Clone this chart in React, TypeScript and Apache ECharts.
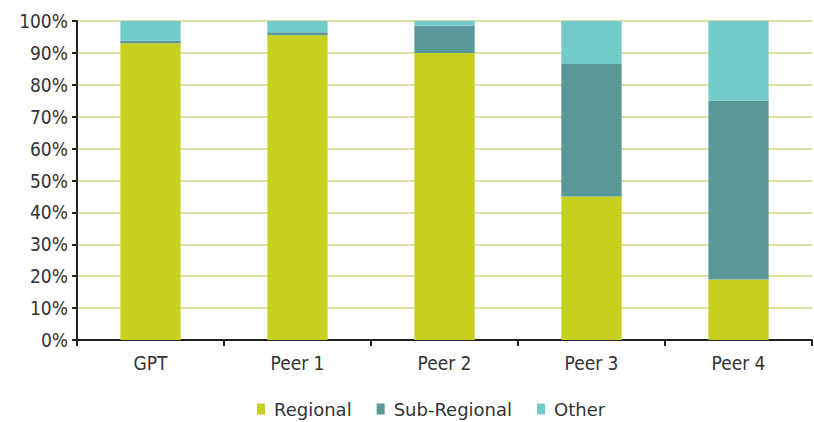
import React, { useEffect, useRef } from "react";
import * as echarts from "echarts";

const categories = ["GPT", "Peer 1", "Peer 2", "Peer 3", "Peer 4"];
const regional = [93, 95.5, 90, 45, 19];
const subRegional = [0.8, 1, 8.5, 41.5, 56];
const other = [6.2, 3.5, 1.5, 13.5, 25];
const yTicks = [0, 10, 20, 30, 40, 50, 60, 70, 80, 90, 100];

const FONT_AXIS = "'DejaVu Sans Condensed', 'DejaVu Sans', sans-serif";
const FONT_LEGEND = "'DejaVu Sans', sans-serif";

export default function App() {
  const ref = useRef<HTMLDivElement>(null);
  useEffect(() => {
    if (!ref.current) return;
    const chart = echarts.init(ref.current, null, { renderer: "svg" });
    chart.setOption({
      animation: false,
      backgroundColor: "#ffffff",
      textStyle: { fontFamily: FONT_AXIS },
      grid: { left: 77, right: 2, top: 21, bottom: 82, containLabel: false },
      legend: {
        top: 399,
        left: 252,
        padding: [0, 5, 0, 5],
        itemWidth: 8,
        itemHeight: 11,
        itemGap: 25,
        icon: "rect",
        textStyle: { fontSize: 18, lineHeight: 20, color: "#333", fontFamily: FONT_LEGEND, padding: [0, 0, 0, 4] },
        data: ["Regional", "Sub-Regional", "Other"],
      },
      xAxis: {
        type: "category",
        data: categories,
        axisLine: { lineStyle: { color: "#222", width: 2 } },
        axisTick: { show: true, length: 6, lineStyle: { color: "#222", width: 2 } },
        axisLabel: { fontSize: 19, color: "#333", margin: 13, fontFamily: FONT_AXIS },
      },
      yAxis: {
        type: "value",
        min: 0,
        max: 100,
        interval: 10,
        axisLine: { show: true, lineStyle: { color: "#222", width: 2 } },
        axisTick: { show: true, length: 5, lineStyle: { color: "#222", width: 2 } },
        axisLabel: {
          fontSize: 19,
          color: "#333",
          margin: 9,
          fontFamily: FONT_AXIS,
          formatter: (v: number) => (yTicks.includes(v) ? v + "%" : ""),
        },
        splitLine: { show: true, lineStyle: { color: "#dfe3a2", width: 2 } },
      },
      series: [
        {
          name: "Regional",
          type: "bar",
          stack: "total",
          barWidth: "41%",
          itemStyle: { color: "#c6d01e" },
          data: regional,
        },
        {
          name: "Sub-Regional",
          type: "bar",
          stack: "total",
          itemStyle: { color: "#5a9898" },
          data: subRegional,
        },
        {
          name: "Other",
          type: "bar",
          stack: "total",
          itemStyle: { color: "#72cacb" },
          data: other,
        },
      ],
    });
    return () => chart.dispose();
  }, []);
  return <div ref={ref} style={{ width: 814, height: 422, position: "absolute", left: 0, top: 0 }} />;
}
